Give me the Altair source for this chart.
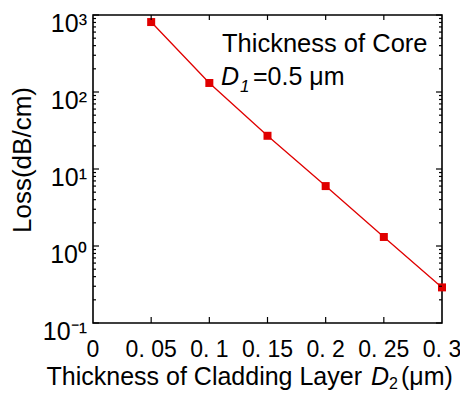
import altair as alt
import pandas as pd

# ---- data ----
thickness = [0.05, 0.10, 0.15, 0.20, 0.25, 0.30]      # D2 (um)
loss = [810, 131, 27, 6.0, 1.31, 0.29]                # dB/cm

x_tick_values = [0, 0.05, 0.10, 0.15, 0.20, 0.25, 0.30]
x_tick_labels = ["0", "0. 05", "0. 1", "0. 15", "0. 2", "0. 25", "0. 3"]
y_tick_values = [0.1, 1, 10, 100, 1000]
y_tick_labels = ["10\u207b\u00b9", "10\u2070", "10\u00b9", "10\u00b2", "10\u00b3"]

W, H = 349, 308
RED = "#e00000"
FONT = "Liberation Sans"

xscale = alt.Scale(domain=[0, 0.3], nice=False, zero=False)
yscale = alt.Scale(type="log", domain=[0.1, 1000], nice=False)

df = pd.DataFrame({"d2": thickness, "loss": loss})

line = alt.Chart(df).mark_line(color=RED, strokeWidth=1.3).encode(
    x=alt.X("d2:Q", scale=xscale, axis=None),
    y=alt.Y("loss:Q", scale=yscale, axis=None),
)
pts = alt.Chart(df).mark_square(color=RED, size=64, opacity=1).encode(
    x=alt.X("d2:Q", scale=xscale, axis=None),
    y=alt.Y("loss:Q", scale=yscale, axis=None),
)

# minor ticks positions
minor = [d * m for d in [0.1, 1, 10, 100] for m in range(2, 10)]
ymaj = pd.DataFrame({"v": y_tick_values})
ymin = pd.DataFrame({"v": minor})
xmaj = pd.DataFrame({"v": x_tick_values[1:-1]})


def yrule(data, x0, x1):
    return alt.Chart(data).mark_rule(color="black", strokeWidth=1.2).encode(
        y=alt.Y("v:Q", scale=yscale, axis=None),
        x=alt.value(x0), x2=alt.value(x1),
    )


def xrule(data, y0, y1):
    return alt.Chart(data).mark_rule(color="black", strokeWidth=1.2).encode(
        x=alt.X("v:Q", scale=xscale, axis=None),
        y=alt.value(y0), y2=alt.value(y1),
    )


ticks = [
    yrule(ymaj, 0, 6), yrule(ymin, 0, 3),
    yrule(ymaj, W, W - 6), yrule(ymin, W, W - 3),
    xrule(xmaj, H, H - 6), xrule(xmaj, 0, 5),
]

ylab = alt.Chart(pd.DataFrame({"v": y_tick_values, "t": y_tick_labels})).mark_text(
    font=FONT, fontSize=25, align="right", baseline="alphabetic", dy=17, color="black"
).encode(
    y=alt.Y("v:Q", scale=yscale, axis=None), x=alt.value(-6), text="t:N"
)
xlab = alt.Chart(pd.DataFrame({"v": x_tick_values, "t": x_tick_labels})).mark_text(
    font=FONT, fontSize=23, align="center", baseline="alphabetic", color="black"
).encode(
    x=alt.X("v:Q", scale=xscale, axis=None), y=alt.value(H + 34), text="t:N"
)


def txt(s, x, y, size=25, style="normal", align="left", angle=0):
    return alt.Chart(pd.DataFrame({"t": [s]})).mark_text(
        font=FONT, fontSize=size, fontStyle=style, align=align,
        baseline="alphabetic" if angle == 0 else "middle", angle=angle, color="black"
    ).encode(x=alt.value(x), y=alt.value(y), text="t:N")


texts = [
    txt("Thickness of Core", 129, 37, size=25.5),
    txt("D", 128, 70, style="italic"),
    txt("1", 147, 77, size=17, style="italic"),
    txt("=0.5 \u03bcm", 160, 70),
    txt("Thickness of Cladding Layer", 269, 370, align="right"),
    txt("D", 278, 370, style="italic"),
    txt("2", 296, 374, size=16),
    txt("(\u03bcm)", 308, 370),
    txt("Loss(dB/cm)", -70, 145, size=26, align="center", angle=270),
]

chart = alt.layer(line, pts, *ticks, ylab, xlab, *texts).properties(
    width=W, height=H,
    autosize=alt.AutoSizeParams(type="none"),
    padding={"left": 85, "top": 7, "right": 18, "bottom": 70},
).configure_view(stroke="black", strokeWidth=1.6)

chart.save("out.html", embed_options={"renderer": "svg", "actions": False})
